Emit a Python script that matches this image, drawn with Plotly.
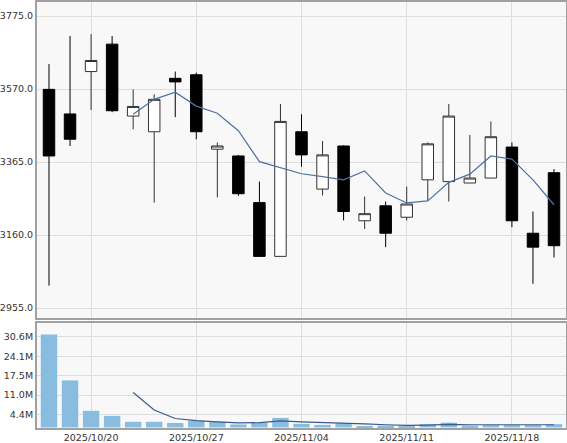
import plotly.graph_objects as go
from plotly.subplots import make_subplots

dates = ["2025/10/16", "2025/10/17", "2025/10/20", "2025/10/21", "2025/10/22",
         "2025/10/23", "2025/10/24", "2025/10/27", "2025/10/28", "2025/10/29",
         "2025/10/30", "2025/10/31", "2025/11/04", "2025/11/05", "2025/11/06",
         "2025/11/07", "2025/11/10", "2025/11/11", "2025/11/12", "2025/11/13",
         "2025/11/14", "2025/11/17", "2025/11/18", "2025/11/19", "2025/11/20"]

open_ = [3569, 3500, 3619, 3696, 3494, 3450, 3600, 3610, 3401, 3382,
         3251, 3100, 3450, 3289, 3410, 3200, 3242, 3210, 3315, 3310,
         3306, 3320, 3407, 3165, 3335]
high = [3640, 3719, 3724, 3719, 3569, 3555, 3619, 3616, 3420, 3385,
        3310, 3528, 3499, 3424, 3412, 3268, 3254, 3296, 3420, 3528,
        3441, 3479, 3420, 3226, 3345]
low = [3018, 3410, 3511, 3505, 3457, 3251, 3491, 3429, 3266, 3270,
       3100, 3100, 3352, 3271, 3201, 3177, 3126, 3201, 3257, 3254,
       3306, 3320, 3182, 3023, 3097]
close = [3382, 3429, 3650, 3509, 3521, 3541, 3590, 3450, 3410, 3276,
         3100, 3479, 3385, 3385, 3226, 3220, 3165, 3247, 3416, 3494,
         3320, 3436, 3200, 3126, 3130]

price_ma = [None, None, None, None, 3499, 3541, 3561, 3522, 3502, 3453,
            3366, 3349, 3332, 3324, 3315, 3340, 3278, 3250, 3256, 3308,
            3331, 3382, 3373, 3315, 3245]

volume_m = [31.4, 15.9, 5.6, 3.9, 1.9, 1.9, 1.5, 2.2, 1.9, 1.0,
            1.6, 3.2, 1.2, 0.85, 1.4, 0.5, 0.6, 0.6, 1.1, 1.6,
            0.6, 0.8, 0.8, 0.8, 1.1]
volume_ma = [None, None, None, None, 11.8, 5.9, 3.0, 2.3, 1.9, 1.5,
             1.6, 2.2, 1.9, 1.7, 1.6, 1.2, 0.9, 0.7, 0.8, 1.0,
             0.9, 0.9, 1.0, 0.9, 0.9]

price_ticks = [2955.0, 3160.0, 3365.0, 3570.0, 3775.0]
vol_tickvals = [4.375, 10.9375, 17.5, 24.0625, 30.625]
vol_ticktext = ["4.4M", "11.0M", "17.5M", "24.1M", "30.6M"]
date_ticks = ["2025/10/20", "2025/10/27", "2025/11/04", "2025/11/11", "2025/11/18"]

fig = make_subplots(rows=2, cols=1, shared_xaxes=False, vertical_spacing=0.0)

fig.add_trace(go.Candlestick(
    x=dates, open=open_, high=high, low=low, close=close,
    increasing=dict(fillcolor="#ffffff", line=dict(color="#333333", width=1)),
    decreasing=dict(fillcolor="#000000", line=dict(color="#000000", width=1)),
    whiskerwidth=0, showlegend=False, hoverinfo="skip"), row=1, col=1)

fig.add_trace(go.Scatter(x=dates, y=price_ma, mode="lines",
                         line=dict(color="#4f70a3", width=1.2),
                         showlegend=False, hoverinfo="skip"), row=1, col=1)

fig.add_trace(go.Bar(x=dates, y=volume_m, marker=dict(color="#88bde0", line=dict(width=0)),
                     showlegend=False, hoverinfo="skip"), row=2, col=1)
fig.add_trace(go.Scatter(x=dates, y=volume_ma, mode="lines",
                         line=dict(color="#3a5a8c", width=1.2),
                         showlegend=False, hoverinfo="skip"), row=2, col=1)

font = dict(family="DejaVu Sans", size=9.5, color="#333333")
xcommon = dict(type="category", range=[-0.57, 24.57], tickvals=date_ticks,
               showgrid=True, gridcolor="#dedede", gridwidth=1,
               showline=True, mirror=True, linecolor="#a0a0a0", linewidth=2,
               ticks="", tickfont=font, fixedrange=True, zeroline=False,
               automargin=False)
ycommon = dict(showgrid=True, gridcolor="#dedede", showline=True, mirror=True,
               linecolor="#a0a0a0", linewidth=2, ticks="", tickfont=font,
               zeroline=False, automargin=False, fixedrange=True)

fig.update_layout(
    width=567, height=443,
    margin=dict(l=37, r=1, t=2, b=15, autoexpand=False),
    paper_bgcolor="#ffffff", plot_bgcolor="#f8f8f8",
    boxgap=0.22, bargap=0.22,
    xaxis=dict(xcommon, domain=[0, 1], showticklabels=False,
               rangeslider=dict(visible=False)),
    xaxis2=dict(xcommon, domain=[0, 1], showticklabels=True),
    yaxis=dict(ycommon, domain=[0.2582, 1], range=[2927, 3814.3],
               tickvals=price_ticks, tickformat=".1f"),
    yaxis2=dict(ycommon, domain=[0, 0.2465], range=[-0.2, 35.3],
                tickvals=vol_tickvals, ticktext=vol_ticktext),
)

fig.write_html("out.html", config={"displayModeBar": False},
               post_script="document.body.style.margin='0';document.body.style.overflow='hidden';")
